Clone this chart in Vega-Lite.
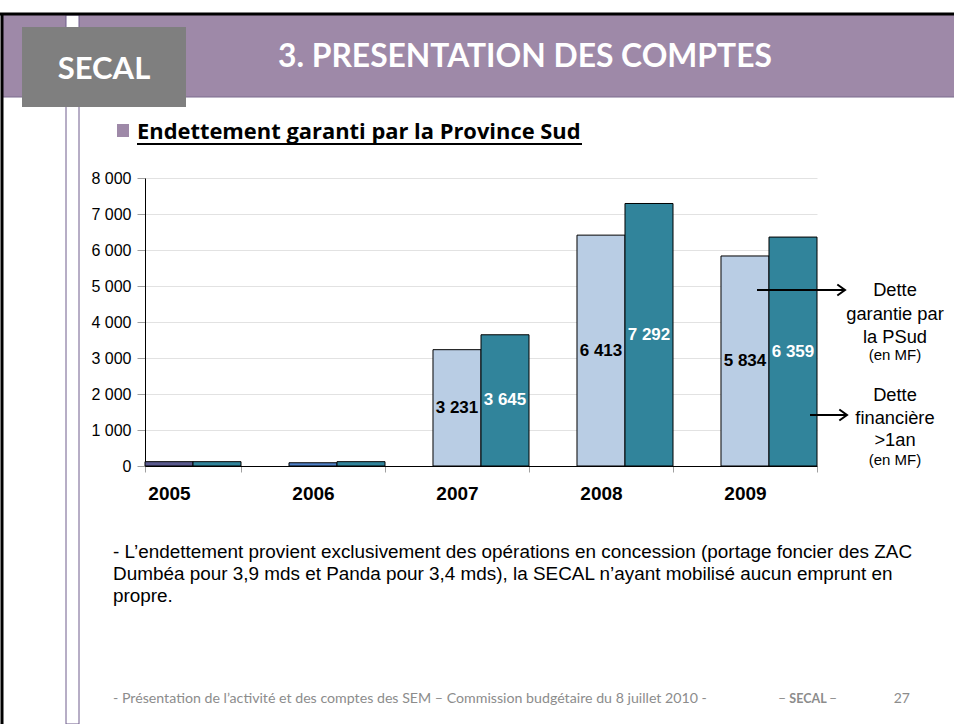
{
  "$schema": "https://vega.github.io/schema/vega-lite/v6.json",
  "width": 672,
  "height": 288,
  "autosize": {"type": "none"},
  "padding": {"left": 145, "top": 178, "right": 137, "bottom": 258},
  "background": "white",
  "config": {"view": {"stroke": null}},
  "datasets": {
    "dette": [
      {"annee": "2005", "serie": "Dette garantie par la PSud", "valeur": 120},
      {"annee": "2005", "serie": "Dette financière >1an", "valeur": 120},
      {"annee": "2006", "serie": "Dette garantie par la PSud", "valeur": 90},
      {"annee": "2006", "serie": "Dette financière >1an", "valeur": 120},
      {"annee": "2007", "serie": "Dette garantie par la PSud", "valeur": 3231},
      {"annee": "2007", "serie": "Dette financière >1an", "valeur": 3645},
      {"annee": "2008", "serie": "Dette garantie par la PSud", "valeur": 6413},
      {"annee": "2008", "serie": "Dette financière >1an", "valeur": 7292},
      {"annee": "2009", "serie": "Dette garantie par la PSud", "valeur": 5834},
      {"annee": "2009", "serie": "Dette financière >1an", "valeur": 6359}
    ],
    "one": [{}]
  },
  "resolve": {"scale": {"y": "independent", "color": "independent"}},
  "layer": [
    {
      "data": {"name": "one"},
      "mark": {"type": "rect", "color": "#9e89a8"},
      "encoding": {"x": {"value": -142}, "x2": {"value": 809}, "y": {"value": -163}, "y2": {"value": -81}}
    },
    {
      "data": {"name": "one"},
      "mark": {"type": "rule", "color": "#7a6a8e", "strokeWidth": 1},
      "encoding": {"x": {"value": 809}, "x2": {"value": -142}, "y": {"value": -81}}
    },
    {
      "data": {"name": "one"},
      "mark": {"type": "rect", "fill": "white", "stroke": "#6e5c8c", "strokeWidth": 1},
      "encoding": {"x": {"value": -79}, "x2": {"value": -66}, "y": {"value": -163}, "y2": {"value": 546}}
    },
    {
      "data": {"name": "one"},
      "mark": {"type": "rule", "color": "black", "strokeWidth": 3},
      "encoding": {"x": {"value": -145}, "x2": {"value": 809}, "y": {"value": -164}}
    },
    {
      "data": {"name": "one"},
      "mark": {"type": "rule", "color": "black", "strokeWidth": 3},
      "encoding": {"x": {"value": -143}, "y": {"value": -165}, "y2": {"value": 546}}
    },
    {
      "data": {"name": "one"},
      "mark": {"type": "rect", "color": "#7f7f7f"},
      "encoding": {"x": {"value": -123}, "x2": {"value": 41}, "y": {"value": -151}, "y2": {"value": -71}}
    },
    {
      "data": {"name": "one"},
      "mark": {"type": "text", "text": "SECAL", "font": "Lato", "fontWeight": "bold", "fontSize": 31, "color": "white", "align": "center", "baseline": "alphabetic"},
      "encoding": {"x": {"value": -41}, "y": {"value": -99}}
    },
    {
      "data": {"name": "one"},
      "mark": {"type": "text", "text": "3. PRESENTATION DES COMPTES", "font": "Lato", "fontWeight": "bold", "fontSize": 31.8, "color": "white", "align": "left", "baseline": "alphabetic"},
      "encoding": {"x": {"value": 133}, "y": {"value": -111}}
    },
    {
      "data": {"name": "one"},
      "mark": {"type": "rect", "color": "#9e89a8"},
      "encoding": {"x": {"value": -28}, "x2": {"value": -16}, "y": {"value": -54}, "y2": {"value": -41}}
    },
    {
      "data": {"name": "one"},
      "mark": {"type": "text", "text": "Endettement garanti par la Province Sud", "font": "Open Sans", "fontWeight": "bold", "fontSize": 21.9, "color": "black", "align": "left", "baseline": "alphabetic"},
      "encoding": {"x": {"value": -8}, "y": {"value": -39}}
    },
    {
      "data": {"name": "one"},
      "mark": {"type": "rule", "color": "black", "strokeWidth": 2},
      "encoding": {"x": {"value": -8}, "x2": {"value": 437}, "y": {"value": -34}}
    },
    {
      "data": {"name": "dette"},
      "mark": {"type": "bar", "stroke": "black", "strokeWidth": 1},
      "encoding": {
        "x": {"field": "annee", "type": "nominal", "sort": null,
              "scale": {"paddingInner": 0.3333, "paddingOuter": 0},
              "axis": {"title": null, "labelAngle": 0, "labelFont": "Liberation Sans", "labelFontSize": 19, "labelFontWeight": "bold", "labelColor": "black", "labelPadding": 12, "labelOffset": -24, "domainColor": "black", "domainWidth": 1, "tickColor": "#a0a0a0", "tickSize": 6, "tickBand": "extent"}},
        "xOffset": {"field": "serie", "type": "nominal", "sort": ["Dette garantie par la PSud", "Dette financière >1an"], "scale": {"paddingInner": 0, "paddingOuter": 0}},
        "y": {"field": "valeur", "type": "quantitative",
              "scale": {"domain": [0, 8000], "nice": false},
              "axis": {"title": null, "values": [0, 1000, 2000, 3000, 4000, 5000, 6000, 7000, 8000], "labelExpr": "replace(format(datum.value, ','), ',', ' ')", "labelFont": "Liberation Sans", "labelFontSize": 16, "labelColor": "black", "labelPadding": 6, "tickColor": "#a0a0a0", "tickSize": 8, "domainColor": "black", "domainWidth": 1, "gridColor": "#e2e2e2", "gridWidth": 1}},
        "color": {
          "condition": [
            {"test": "datum.annee == '2005' && datum.serie == 'Dette garantie par la PSud'", "value": "#5a5a8e"},
            {"test": "datum.annee == '2006' && datum.serie == 'Dette garantie par la PSud'", "value": "#4f81c7"}
          ],
          "field": "serie", "type": "nominal",
          "scale": {"domain": ["Dette garantie par la PSud", "Dette financière >1an"], "range": ["#b9cde4", "#31849b"]},
          "legend": null
        }
      }
    },
    {
      "data": {"name": "dette"},
      "transform": [
        {"filter": "datum.valeur > 1000"},
        {"calculate": "replace(format(datum.valeur, ','), ',', ' ')", "as": "etiquette"}
      ],
      "mark": {"type": "text", "font": "Liberation Sans", "fontWeight": "bold", "fontSize": 17, "baseline": "middle", "align": "center"},
      "encoding": {
        "x": {"field": "annee", "type": "nominal", "sort": null},
        "xOffset": {"field": "serie", "type": "nominal", "sort": ["Dette garantie par la PSud", "Dette financière >1an"]},
        "y": {"field": "valeur", "type": "quantitative", "scale": {"domain": [0, 16000], "nice": false}, "axis": null},
        "text": {"field": "etiquette", "type": "nominal"},
        "color": {"condition": {"test": "datum.serie == 'Dette financière >1an'", "value": "white"}, "value": "black"}
      }
    },
    {
      "data": {"name": "one"},
      "mark": {"type": "rule", "color": "black", "strokeWidth": 2},
      "encoding": {"x": {"value": 612}, "x2": {"value": 699}, "y": {"value": 112}}
    },
    {
      "data": {"name": "one"},
      "mark": {"type": "point", "shape": "M-1.4,-1L0,0L-1.4,1", "filled": false, "stroke": "black", "strokeWidth": 2, "size": 120, "opacity": 1},
      "encoding": {"x": {"value": 700}, "y": {"value": 112}}
    },
    {
      "data": {"name": "one"},
      "mark": {"type": "rule", "color": "black", "strokeWidth": 2},
      "encoding": {"x": {"value": 665}, "x2": {"value": 701}, "y": {"value": 237}}
    },
    {
      "data": {"name": "one"},
      "mark": {"type": "point", "shape": "M-1.4,-1L0,0L-1.4,1", "filled": false, "stroke": "black", "strokeWidth": 2, "size": 120, "opacity": 1},
      "encoding": {"x": {"value": 702}, "y": {"value": 237}}
    },
    {
      "data": {"name": "one"},
      "mark": {"type": "text", "text": ["Dette", "garantie par", "la PSud"], "lineHeight": 23.5, "font": "Liberation Sans", "fontSize": 18.3, "color": "black", "align": "center", "baseline": "alphabetic"},
      "encoding": {"x": {"value": 750}, "y": {"value": 118}}
    },
    {
      "data": {"name": "one"},
      "mark": {"type": "text", "text": "(en MF)", "font": "Liberation Sans", "fontSize": 15, "color": "black", "align": "center", "baseline": "alphabetic"},
      "encoding": {"x": {"value": 750}, "y": {"value": 182}}
    },
    {
      "data": {"name": "one"},
      "mark": {"type": "text", "text": ["Dette", "financière", ">1an"], "lineHeight": 22.5, "font": "Liberation Sans", "fontSize": 18.3, "color": "black", "align": "center", "baseline": "alphabetic"},
      "encoding": {"x": {"value": 750}, "y": {"value": 223}}
    },
    {
      "data": {"name": "one"},
      "mark": {"type": "text", "text": "(en MF)", "font": "Liberation Sans", "fontSize": 15, "color": "black", "align": "center", "baseline": "alphabetic"},
      "encoding": {"x": {"value": 750}, "y": {"value": 287}}
    },
    {
      "data": {"name": "one"},
      "mark": {"type": "text", "text": ["- L’endettement provient exclusivement des opérations en concession (portage foncier des ZAC", "Dumbéa pour 3,9 mds et Panda pour 3,4 mds), la SECAL n’ayant mobilisé aucun emprunt en", "propre."], "lineHeight": 22, "font": "Liberation Sans", "fontSize": 18.9, "color": "black", "align": "left", "baseline": "alphabetic"},
      "encoding": {"x": {"value": -32}, "y": {"value": 380}}
    },
    {
      "data": {"name": "one"},
      "mark": {"type": "text", "text": "- Présentation de l’activité et des comptes des SEM – Commission budgétaire du 8 juillet 2010 -", "font": "Lato", "fontSize": 14.2, "color": "#8c8c8c", "align": "left", "baseline": "alphabetic"},
      "encoding": {"x": {"value": -32}, "y": {"value": 525}}
    },
    {
      "data": {"name": "one"},
      "mark": {"type": "text", "text": "–", "font": "Lato", "fontSize": 14, "color": "#8c8c8c", "align": "center", "baseline": "alphabetic"},
      "encoding": {"x": {"value": 637}, "y": {"value": 525}}
    },
    {
      "data": {"name": "one"},
      "mark": {"type": "text", "text": "SECAL", "font": "Lato", "fontWeight": "bold", "fontSize": 12.5, "color": "#8c8c8c", "align": "center", "baseline": "alphabetic"},
      "encoding": {"x": {"value": 663}, "y": {"value": 525}}
    },
    {
      "data": {"name": "one"},
      "mark": {"type": "text", "text": "–", "font": "Lato", "fontSize": 14, "color": "#8c8c8c", "align": "center", "baseline": "alphabetic"},
      "encoding": {"x": {"value": 688}, "y": {"value": 525}}
    },
    {
      "data": {"name": "one"},
      "mark": {"type": "text", "text": "27", "font": "Lato", "fontSize": 14, "color": "#8c8c8c", "align": "right", "baseline": "alphabetic"},
      "encoding": {"x": {"value": 765}, "y": {"value": 525}}
    }
  ]
}
